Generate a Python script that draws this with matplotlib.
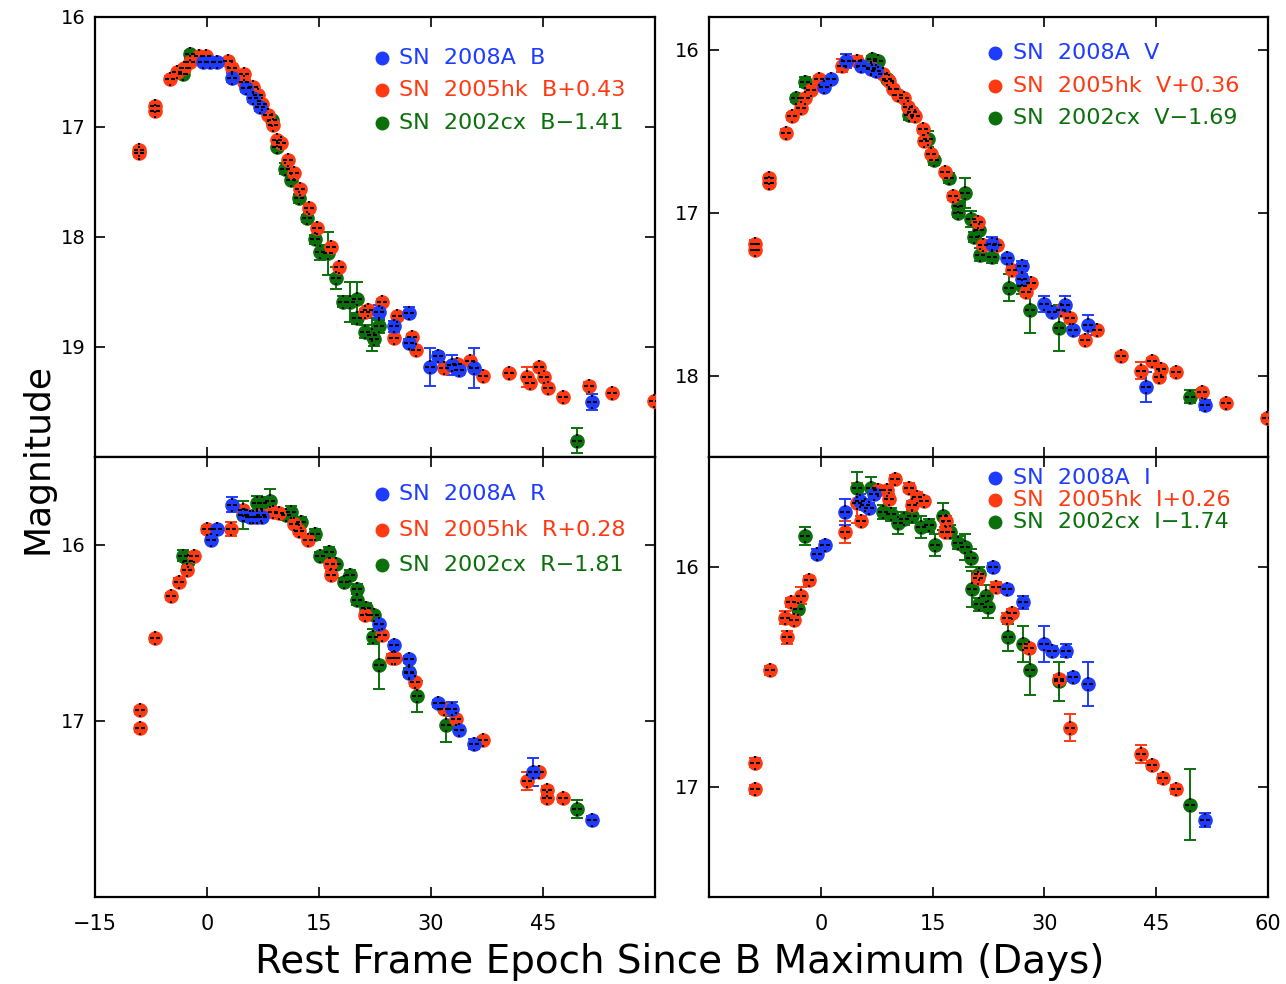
import matplotlib
matplotlib.use("Agg")
import matplotlib.pyplot as plt
from matplotlib.path import Path

# ---- B band ----
b_08a_t = [-0.6, 0.4, 1.3, 3.3, 5.2, 6.2, 7.1, 23.0, 25.0, 27.0, 27.0, 29.9, 30.9, 32.8, 33.8, 35.7, 51.6]
b_08a_m = [16.41, 16.41, 16.41, 16.55, 16.65, 16.74, 16.82, 18.68, 18.81, 18.69, 18.96, 19.18, 19.08, 19.16, 19.21, 19.19, 19.50]
b_08a_e = [0.03, 0.03, 0.03, 0.04, 0.03, 0.03, 0.03, 0.06, 0.05, 0.05, 0.03, 0.17, 0.03, 0.09, 0.04, 0.18, 0.07]

b_05hk_t = [-9.05, -9.05, -6.95, -6.95, -4.9, -4.0, -3.05, -2.3, -1.1, -0.1, 2.8, 3.3, 5.0, 5.0, 6.1, 6.8, 7.4, 8.2,
            8.9, 9.4, 9.9, 10.9, 11.7, 12.5, 13.7, 14.7, 16.6, 17.7, 21.1, 21.6, 23.5, 25.0, 25.5, 27.4, 28.0, 31.8,
            33.5, 35.2, 36.9, 40.4, 42.8, 43.3, 44.5, 45.2, 45.7, 47.7, 51.2, 54.2, 59.9]
b_05hk_m = [17.21, 17.24, 16.81, 16.85, 16.56, 16.50, 16.46, 16.41, 16.35, 16.35, 16.40, 16.46, 16.52, 16.59, 16.64,
            16.71, 16.79, 16.89, 16.98, 17.12, 17.15, 17.30, 17.42, 17.56, 17.74, 17.92, 18.09, 18.27, 18.68, 18.66,
            18.59, 18.92, 18.72, 18.91, 19.03, 19.19, 19.15, 19.13, 19.26, 19.24, 19.27, 19.33, 19.18, 19.27, 19.37,
            19.45, 19.35, 19.42, 19.49]
b_05hk_e = [0.03, 0.03, 0.03, 0.03, 0.02, 0.02, 0.02, 0.02, 0.02, 0.02, 0.03, 0.03, 0.03, 0.03, 0.02, 0.02, 0.02, 0.02,
            0.02, 0.02, 0.02, 0.02, 0.02, 0.02, 0.03, 0.02, 0.02, 0.02, 0.03, 0.03, 0.03, 0.02, 0.02, 0.03, 0.02, 0.03,
            0.03, 0.02, 0.02, 0.02, 0.09, 0.03, 0.03, 0.03, 0.03, 0.02, 0.03, 0.02, 0.02]

b_02cx_t = [-3.15, -2.3, 8.7, 9.4, 10.4, 11.3, 12.3, 13.4, 14.4, 15.2, 16.2, 17.3, 18.2, 19.2, 20.1, 20.1, 21.1, 22.1,
            22.3, 23.0, 49.6]
b_02cx_m = [16.52, 16.34, 16.94, 17.18, 17.38, 17.48, 17.65, 17.83, 18.02, 18.14, 18.15, 18.37, 18.59, 18.59, 18.56,
            18.74, 18.86, 18.89, 18.93, 18.81, 19.85]
b_02cx_e = [0.03, 0.03, 0.03, 0.03, 0.05, 0.03, 0.04, 0.03, 0.04, 0.07, 0.20, 0.10, 0.05, 0.18, 0.15, 0.05, 0.06, 0.15,
            0.06, 0.06, 0.11]

# ---- V band ----
v_08a_t = [0.4, 1.4, 3.4, 5.4, 6.7, 7.4, 23.0, 25.0, 27.0, 27.0, 29.9, 31.0, 32.7, 33.9, 35.8, 43.6, 51.6]
v_08a_m = [16.23, 16.18, 16.07, 16.10, 16.12, 16.13, 17.19, 17.28, 17.33, 17.41, 17.56, 17.61, 17.57, 17.72, 17.69, 18.07, 18.18]
v_08a_e = [0.02, 0.02, 0.04, 0.02, 0.02, 0.02, 0.04, 0.02, 0.03, 0.03, 0.05, 0.02, 0.06, 0.02, 0.06, 0.09, 0.03]

v_05hk_t = [-8.84, -8.84, -6.94, -6.94, -4.7, -3.8, -2.6, -2.1, -1.3, -0.3, 2.9, 4.9, 6.7, 8.4, 9.2, 9.7, 10.4, 11.2,
            11.7, 12.2, 12.7, 13.7, 13.8, 14.8, 16.7, 17.7, 21.1, 21.7, 23.7, 25.6, 27.5, 28.2, 32.2, 33.5, 35.5, 37.0,
            40.3, 43.0, 44.5, 45.4, 45.7, 47.7, 51.2, 54.3, 59.9]
v_05hk_m = [17.19, 17.23, 16.79, 16.82, 16.51, 16.41, 16.36, 16.30, 16.25, 16.18, 16.10, 16.07, 16.11, 16.15, 16.19,
            16.24, 16.28, 16.30, 16.35, 16.38, 16.41, 16.49, 16.56, 16.64, 16.75, 16.90, 17.06, 17.20, 17.20, 17.35,
            17.49, 17.43, 17.60, 17.65, 17.78, 17.72, 17.88, 17.97, 17.91, 18.01, 17.96, 17.98, 18.10, 18.17, 18.26]
v_05hk_e = [0.02, 0.02, 0.02, 0.02, 0.02, 0.02, 0.02, 0.02, 0.02, 0.02, 0.04, 0.03, 0.02, 0.02, 0.02, 0.02, 0.02, 0.02,
            0.02, 0.02, 0.02, 0.02, 0.02, 0.02, 0.02, 0.02, 0.02, 0.02, 0.02, 0.02, 0.02, 0.02, 0.02, 0.02, 0.02, 0.02,
            0.02, 0.05, 0.02, 0.02, 0.02, 0.02, 0.02, 0.02, 0.02]

v_02cx_t = [-3.3, -2.1, 6.9, 7.7, 8.9, 11.9, 14.4, 15.2, 17.2, 18.4, 18.4, 19.3, 20.2, 20.5, 21.2, 21.4, 23.0, 25.2,
            27.0, 28.1, 32.0, 49.5]
v_02cx_m = [16.30, 16.20, 16.06, 16.07, 16.18, 16.40, 16.55, 16.68, 16.79, 16.96, 17.00, 16.88, 17.04, 17.15, 17.11,
            17.26, 17.27, 17.46, 17.45, 17.60, 17.71, 18.13]
v_02cx_e = [0.02, 0.03, 0.02, 0.02, 0.02, 0.03, 0.05, 0.03, 0.03, 0.03, 0.03, 0.09, 0.05, 0.03, 0.05, 0.04, 0.04, 0.08,
            0.05, 0.14, 0.14, 0.04]

# ---- R band ----
r_08a_t = [0.5, 1.3, 3.3, 5.0, 5.7, 6.7, 7.4, 23.0, 25.0, 27.0, 27.0, 30.9, 32.8, 33.8, 35.7, 43.7, 51.6]
r_08a_m = [15.97, 15.91, 15.77, 15.83, 15.84, 15.84, 15.84, 16.45, 16.57, 16.65, 16.73, 16.90, 16.93, 17.05, 17.13, 17.29, 17.56]
r_08a_e = [0.02, 0.02, 0.04, 0.02, 0.02, 0.02, 0.02, 0.02, 0.02, 0.02, 0.02, 0.02, 0.04, 0.02, 0.03, 0.08, 0.02]

r_05hk_t = [-9.0, -9.0, -6.95, -4.76, -3.8, -2.66, -1.7, -0.02, 3.2, 4.76, 6.2, 7.2, 8.9, 9.6, 11.6, 12.3, 13.5, 16.5,
            16.6, 21.1, 23.5, 24.8, 25.2, 27.9, 31.8, 33.4, 37.0, 42.8, 44.5, 45.6, 45.6, 47.7]
r_05hk_m = [16.94, 17.04, 16.53, 16.29, 16.21, 16.14, 16.06, 15.91, 15.91, 15.80, 15.84, 15.83, 15.81, 15.82, 15.88,
            15.92, 15.97, 16.11, 16.17, 16.40, 16.51, 16.64, 16.64, 16.78, 16.93, 16.99, 17.11, 17.34, 17.29, 17.39,
            17.44, 17.44]
r_05hk_e = [0.02, 0.02, 0.02, 0.02, 0.02, 0.02, 0.02, 0.02, 0.04, 0.02, 0.02, 0.02, 0.02, 0.02, 0.02, 0.02, 0.02, 0.02,
            0.02, 0.02, 0.02, 0.02, 0.02, 0.02, 0.02, 0.02, 0.02, 0.05, 0.02, 0.02, 0.02, 0.02]

r_02cx_t = [-3.15, -2.6, 4.76, 6.7, 7.4, 8.4, 10.6, 11.3, 12.6, 14.5, 15.2, 16.4, 17.3, 18.3, 19.2, 20.1, 20.1, 21.3,
            22.3, 22.2, 23.1, 27.0, 28.1, 32.0, 49.5]
r_02cx_m = [16.06, 16.09, 15.83, 15.76, 15.76, 15.75, 15.83, 15.81, 15.87, 15.94, 16.06, 16.04, 16.11, 16.21, 16.17,
            16.25, 16.31, 16.36, 16.40, 16.52, 16.68, 16.72, 16.86, 17.02, 17.50]
r_02cx_e = [0.03, 0.02, 0.08, 0.04, 0.03, 0.07, 0.03, 0.03, 0.03, 0.03, 0.02, 0.03, 0.02, 0.02, 0.03, 0.03, 0.03, 0.03,
            0.02, 0.04, 0.14, 0.02, 0.09, 0.10, 0.05]

# ---- I band ----
i_08a_t = [-0.48, 0.57, 3.3, 5.2, 5.9, 6.4, 7.2, 23.1, 25.0, 27.1, 29.9, 31.0, 32.9, 33.9, 35.8, 51.6]
i_08a_m = [15.94, 15.90, 15.75, 15.70, 15.72, 15.73, 15.67, 16.00, 16.10, 16.16, 16.35, 16.38, 16.38, 16.50, 16.53, 17.15]
i_08a_e = [0.02, 0.02, 0.06, 0.03, 0.02, 0.02, 0.02, 0.02, 0.02, 0.03, 0.08, 0.02, 0.03, 0.02, 0.10, 0.03]

i_05hk_t = [-8.84, -8.84, -6.84, -4.8, -4.6, -4.0, -3.6, -2.6, -1.6, 3.3, 4.9, 5.4, 7.7, 8.9, 9.2, 9.9, 11.8, 12.2,
            12.9, 13.8, 16.7, 16.8, 21.1, 23.5, 25.0, 25.6, 28.0, 32.0, 33.5, 42.9, 44.5, 45.9, 47.7]
i_05hk_m = [16.89, 17.01, 16.47, 16.23, 16.32, 16.16, 16.24, 16.13, 16.06, 15.84, 15.71, 15.79, 15.65, 15.65, 15.69,
            15.60, 15.64, 15.72, 15.68, 15.70, 15.84, 15.79, 16.05, 16.09, 16.23, 16.21, 16.37, 16.51, 16.73, 16.85,
            16.90, 16.96, 17.01]
i_05hk_e = [0.02, 0.02, 0.02, 0.03, 0.03, 0.02, 0.02, 0.04, 0.02, 0.05, 0.09, 0.02, 0.02, 0.02, 0.02, 0.02, 0.02, 0.02,
            0.02, 0.02, 0.02, 0.02, 0.03, 0.02, 0.02, 0.02, 0.02, 0.02, 0.06, 0.04, 0.02, 0.02, 0.02]

i_02cx_t = [-3.1, -2.1, 4.8, 6.7, 8.4, 9.4, 10.4, 11.2, 12.3, 13.4, 14.5, 15.3, 16.4, 17.4, 18.4, 19.4, 20.2, 20.3,
            21.2, 21.2, 22.2, 22.4, 25.1, 27.1, 28.1, 32.0, 49.6]
i_02cx_m = [16.19, 15.86, 15.64, 15.64, 15.75, 15.76, 15.80, 15.78, 15.77, 15.82, 15.81, 15.90, 15.77, 15.84, 15.89,
            15.91, 15.96, 16.10, 16.03, 16.17, 16.13, 16.18, 16.32, 16.35, 16.47, 16.52, 17.08]
i_02cx_e = [0.02, 0.04, 0.07, 0.05, 0.03, 0.03, 0.05, 0.03, 0.03, 0.05, 0.03, 0.05, 0.06, 0.03, 0.03, 0.06, 0.04, 0.08,
            0.03, 0.03, 0.05, 0.05, 0.06, 0.08, 0.11, 0.09, 0.16]

offsets = {'B': ('+0.43', '\u22121.41'), 'V': ('+0.36', '\u22121.69'),
           'R': ('+0.28', '\u22121.81'), 'I': ('+0.26', '\u22121.74')}
ylims = {'B': (20.0, 16.0), 'V': (18.5, 15.8), 'R': (18.0, 15.5), 'I': (17.5, 15.5)}
yticks = {'B': [16, 17, 18, 19], 'V': [16, 17, 18], 'R': [16, 17], 'I': [16, 17]}

BLUE = '#1e3cff'
RED = '#ff3a12'
GREEN = '#0b700b'

# black cross-hair drawn on top of each filled symbol
hair = Path([(-0.8, 0), (-0.2, 0), (0.2, 0), (0.8, 0), (0, 0.7), (0, 1.0), (0, -1.0), (0, -0.7)],
            [Path.MOVETO, Path.LINETO] * 4)

W, H = 1286, 984
fig = plt.figure(figsize=(W / 100, H / 100), dpi=100)


def px_axes(x0, y0, x1, y1):
    return fig.add_axes([x0 / W, 1 - y1 / H, (x1 - x0) / W, (y1 - y0) / H])


def draw(ax, band, series, key_rows):
    for t, m, e, c in series:
        ax.errorbar(t, m, yerr=e, fmt='o', color=c, mec=c, ms=9.5, capsize=4.5,
                    elinewidth=1.4, capthick=1.4, zorder=3)
        ax.plot(t, m, ls='none', marker=hair, ms=9.5, mec='k', mfc='none', mew=1.5, zorder=4)
    ax.set_xlim(-15, 60)
    ax.set_ylim(*ylims[band])
    ax.set_yticks(yticks[band])
    ax.tick_params(direction='in', length=7, width=1.2, top=True, right=True,
                   labelsize=14, pad=7)
    for s in ax.spines.values():
        s.set_linewidth(1.6)
    p05, p02 = offsets[band]
    labels = ['SN  2008A  ' + band, 'SN  2005hk  ' + band + p05, 'SN  2002cx  ' + band + p02]
    for (ky, lab, c) in zip(key_rows, labels, [BLUE, RED, GREEN]):
        ax.plot([0.512], [ky], 'o', color=c, ms=9, transform=ax.transAxes, clip_on=False)
        ax.text(0.543, ky, lab, color=c, fontsize=16, va='center', ha='left', transform=ax.transAxes)


ax_b = px_axes(95, 17, 655, 457)
ax_v = px_axes(709, 17, 1268, 457)
ax_r = px_axes(95, 457, 655, 897)
ax_i = px_axes(709, 457, 1268, 897)

draw(ax_b, 'B', [(b_02cx_t, b_02cx_m, b_02cx_e, GREEN), (b_05hk_t, b_05hk_m, b_05hk_e, RED),
                 (b_08a_t, b_08a_m, b_08a_e, BLUE)], [0.907, 0.834, 0.759])
draw(ax_v, 'V', [(v_02cx_t, v_02cx_m, v_02cx_e, GREEN), (v_05hk_t, v_05hk_m, v_05hk_e, RED),
                 (v_08a_t, v_08a_m, v_08a_e, BLUE)], [0.918, 0.843, 0.770])
draw(ax_r, 'R', [(r_02cx_t, r_02cx_m, r_02cx_e, GREEN), (r_05hk_t, r_05hk_m, r_05hk_e, RED),
                 (r_08a_t, r_08a_m, r_08a_e, BLUE)], [0.916, 0.834, 0.755])
draw(ax_i, 'I', [(i_02cx_t, i_02cx_m, i_02cx_e, GREEN), (i_05hk_t, i_05hk_m, i_05hk_e, RED),
                 (i_08a_t, i_08a_m, i_08a_e, BLUE)], [0.952, 0.902, 0.853])

for ax in (ax_b, ax_v):
    ax.set_xticks([0, 15, 30, 45])
    ax.tick_params(labelbottom=False)
ax_r.set_xticks([-15, 0, 15, 30, 45, 60])
ax_r.set_xticklabels(['\u221215', '0', '15', '30', '45', ''])
ax_i.set_xticks([-15, 0, 15, 30, 45, 60])
ax_i.set_xticklabels(['', '0', '15', '30', '45', '60'])
for ax in (ax_r, ax_i):
    ax.tick_params(axis='x', pad=12, labelsize=15)

fig.text(38 / W, 1 - 458 / H, 'Magnitude', rotation=90, fontsize=26, ha='center', va='center')
fig.text(680 / W, 1 - 962 / H, 'Rest Frame Epoch Since B Maximum (Days)', fontsize=28,
         ha='center', va='center')

fig.savefig('out.png', dpi=100)
